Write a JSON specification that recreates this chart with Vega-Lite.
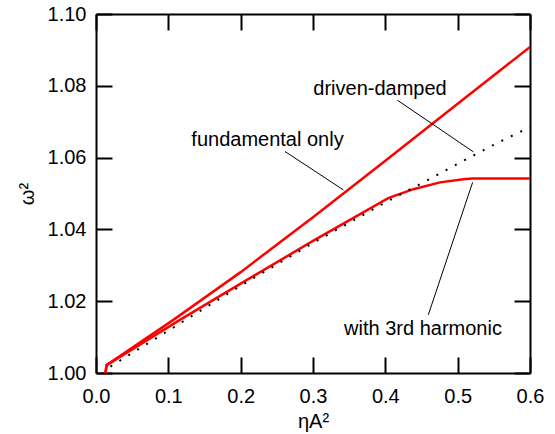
{
  "$schema": "https://vega.github.io/schema/vega-lite/v6.json",
  "width": 434,
  "height": 359,
  "autosize": "none",
  "padding": {"left": 96, "top": 14, "right": 25, "bottom": 61},
  "background": "white",
  "config": {
    "view": {"stroke": null},
    "font": "Liberation Sans",
    "axis": {
      "domainColor": "black", "domainWidth": 2,
      "tickColor": "black", "tickWidth": 2, "tickSize": -16,
      "labelColor": "black", "labelFont": "Liberation Sans", "labelFontSize": 20, "labelFlush": false, "labelOverlap": false,
      "titleColor": "black", "titleFont": "Liberation Sans", "titleFontSize": 20, "titleFontWeight": "normal",
      "grid": false
    }
  },
  "resolve": {"axis": {"x": "independent", "y": "independent"}},
  "datasets": {
    "curves": [
      {"series": "fundamental", "order": 0, "x": 0.013, "y": 1.0},
      {"series": "fundamental", "order": 1, "x": 0.0148, "y": 1.0022},
      {"series": "fundamental", "order": 2, "x": 0.107, "y": 1.0148},
      {"series": "fundamental", "order": 3, "x": 0.2, "y": 1.0281},
      {"series": "fundamental", "order": 4, "x": 0.3, "y": 1.0434},
      {"series": "fundamental", "order": 5, "x": 0.4, "y": 1.0591},
      {"series": "fundamental", "order": 6, "x": 0.5, "y": 1.075},
      {"series": "fundamental", "order": 7, "x": 0.6, "y": 1.0908},
      {"series": "harmonic", "order": 0, "x": 0.013, "y": 1.0},
      {"series": "harmonic", "order": 1, "x": 0.0148, "y": 1.0022},
      {"series": "harmonic", "order": 2, "x": 0.116, "y": 1.0148},
      {"series": "harmonic", "order": 3, "x": 0.2, "y": 1.0249},
      {"series": "harmonic", "order": 4, "x": 0.3, "y": 1.0368},
      {"series": "harmonic", "order": 5, "x": 0.404, "y": 1.0487},
      {"series": "harmonic", "order": 6, "x": 0.4387, "y": 1.0512},
      {"series": "harmonic", "order": 7, "x": 0.4756, "y": 1.0531},
      {"series": "harmonic", "order": 8, "x": 0.508, "y": 1.054},
      {"series": "harmonic", "order": 9, "x": 0.52, "y": 1.0542},
      {"series": "harmonic", "order": 10, "x": 0.6, "y": 1.0542},
      {"series": "driven", "order": 0, "x": 0.02, "y": 1.0018},
      {"series": "driven", "order": 1, "x": 0.1, "y": 1.0118},
      {"series": "driven", "order": 2, "x": 0.2, "y": 1.0243},
      {"series": "driven", "order": 3, "x": 0.3, "y": 1.0362},
      {"series": "driven", "order": 4, "x": 0.4, "y": 1.0475},
      {"series": "driven", "order": 5, "x": 0.4433, "y": 1.0521},
      {"series": "driven", "order": 6, "x": 0.5125, "y": 1.0596},
      {"series": "driven", "order": 7, "x": 0.554, "y": 1.064},
      {"series": "driven", "order": 8, "x": 0.6, "y": 1.0685}
    ],
    "notes": [
      {"label": "fundamental only", "tx": 0.2371, "ty": 1.0649, "x1": 0.2613, "y1": 1.0617, "x2": 0.342, "y2": 1.051},
      {"label": "driven-damped", "tx": 0.3926, "ty": 1.0791, "x1": 0.4166, "y1": 1.076, "x2": 0.5217, "y2": 1.0616},
      {"label": "with 3rd harmonic", "tx": 0.4521, "ty": 1.0123, "x1": 0.4594, "y1": 1.0162, "x2": 0.5207, "y2": 1.0531}
    ]
  },
  "layer": [
    {
      "data": {"name": "curves"},
      "transform": [{"filter": "datum.series !== 'driven'"}],
      "mark": {"type": "line", "color": "#ff0000", "strokeWidth": 2.5, "clip": true},
      "encoding": {
        "x": {"field": "x", "type": "quantitative", "scale": {"domain": [0, 0.6], "nice": false},
              "axis": {"orient": "bottom", "title": "ηA²", "values": [0, 0.1, 0.2, 0.3, 0.4, 0.5, 0.6], "format": ".1f", "labelPadding": 29, "titlePadding": 5}},
        "y": {"field": "y", "type": "quantitative", "scale": {"domain": [1.0, 1.1], "nice": false, "zero": false},
              "axis": {"orient": "left", "title": "ω²", "values": [1.0, 1.02, 1.04, 1.06, 1.08, 1.1], "format": ".2f", "labelPadding": 26, "titlePadding": 10}},
        "detail": {"field": "series"},
        "order": {"field": "order"}
      }
    },
    {
      "data": {"name": "curves"},
      "transform": [{"filter": "datum.series === 'driven'"}],
      "mark": {"type": "line", "color": "black", "strokeWidth": 2, "strokeDash": [2, 8.5], "strokeCap": "butt"},
      "encoding": {
        "x": {"field": "x", "type": "quantitative",
              "axis": {"orient": "top", "title": null, "labels": false, "values": [0, 0.1, 0.2, 0.3, 0.4, 0.5, 0.6]}},
        "y": {"field": "y", "type": "quantitative",
              "axis": {"orient": "right", "title": null, "labels": false, "values": [1.0, 1.02, 1.04, 1.06, 1.08, 1.1]}},
        "order": {"field": "order"}
      }
    },
    {
      "data": {"name": "notes"},
      "mark": {"type": "rule", "color": "black", "strokeWidth": 1},
      "encoding": {
        "x": {"field": "x1", "type": "quantitative", "axis": null},
        "y": {"field": "y1", "type": "quantitative", "axis": null},
        "x2": {"field": "x2"},
        "y2": {"field": "y2"}
      }
    },
    {
      "data": {"name": "notes"},
      "mark": {"type": "text", "font": "Liberation Sans", "fontSize": 20, "color": "black", "align": "center", "baseline": "middle"},
      "encoding": {
        "x": {"field": "tx", "type": "quantitative", "axis": null},
        "y": {"field": "ty", "type": "quantitative", "axis": null},
        "text": {"field": "label"}
      }
    }
  ]
}
